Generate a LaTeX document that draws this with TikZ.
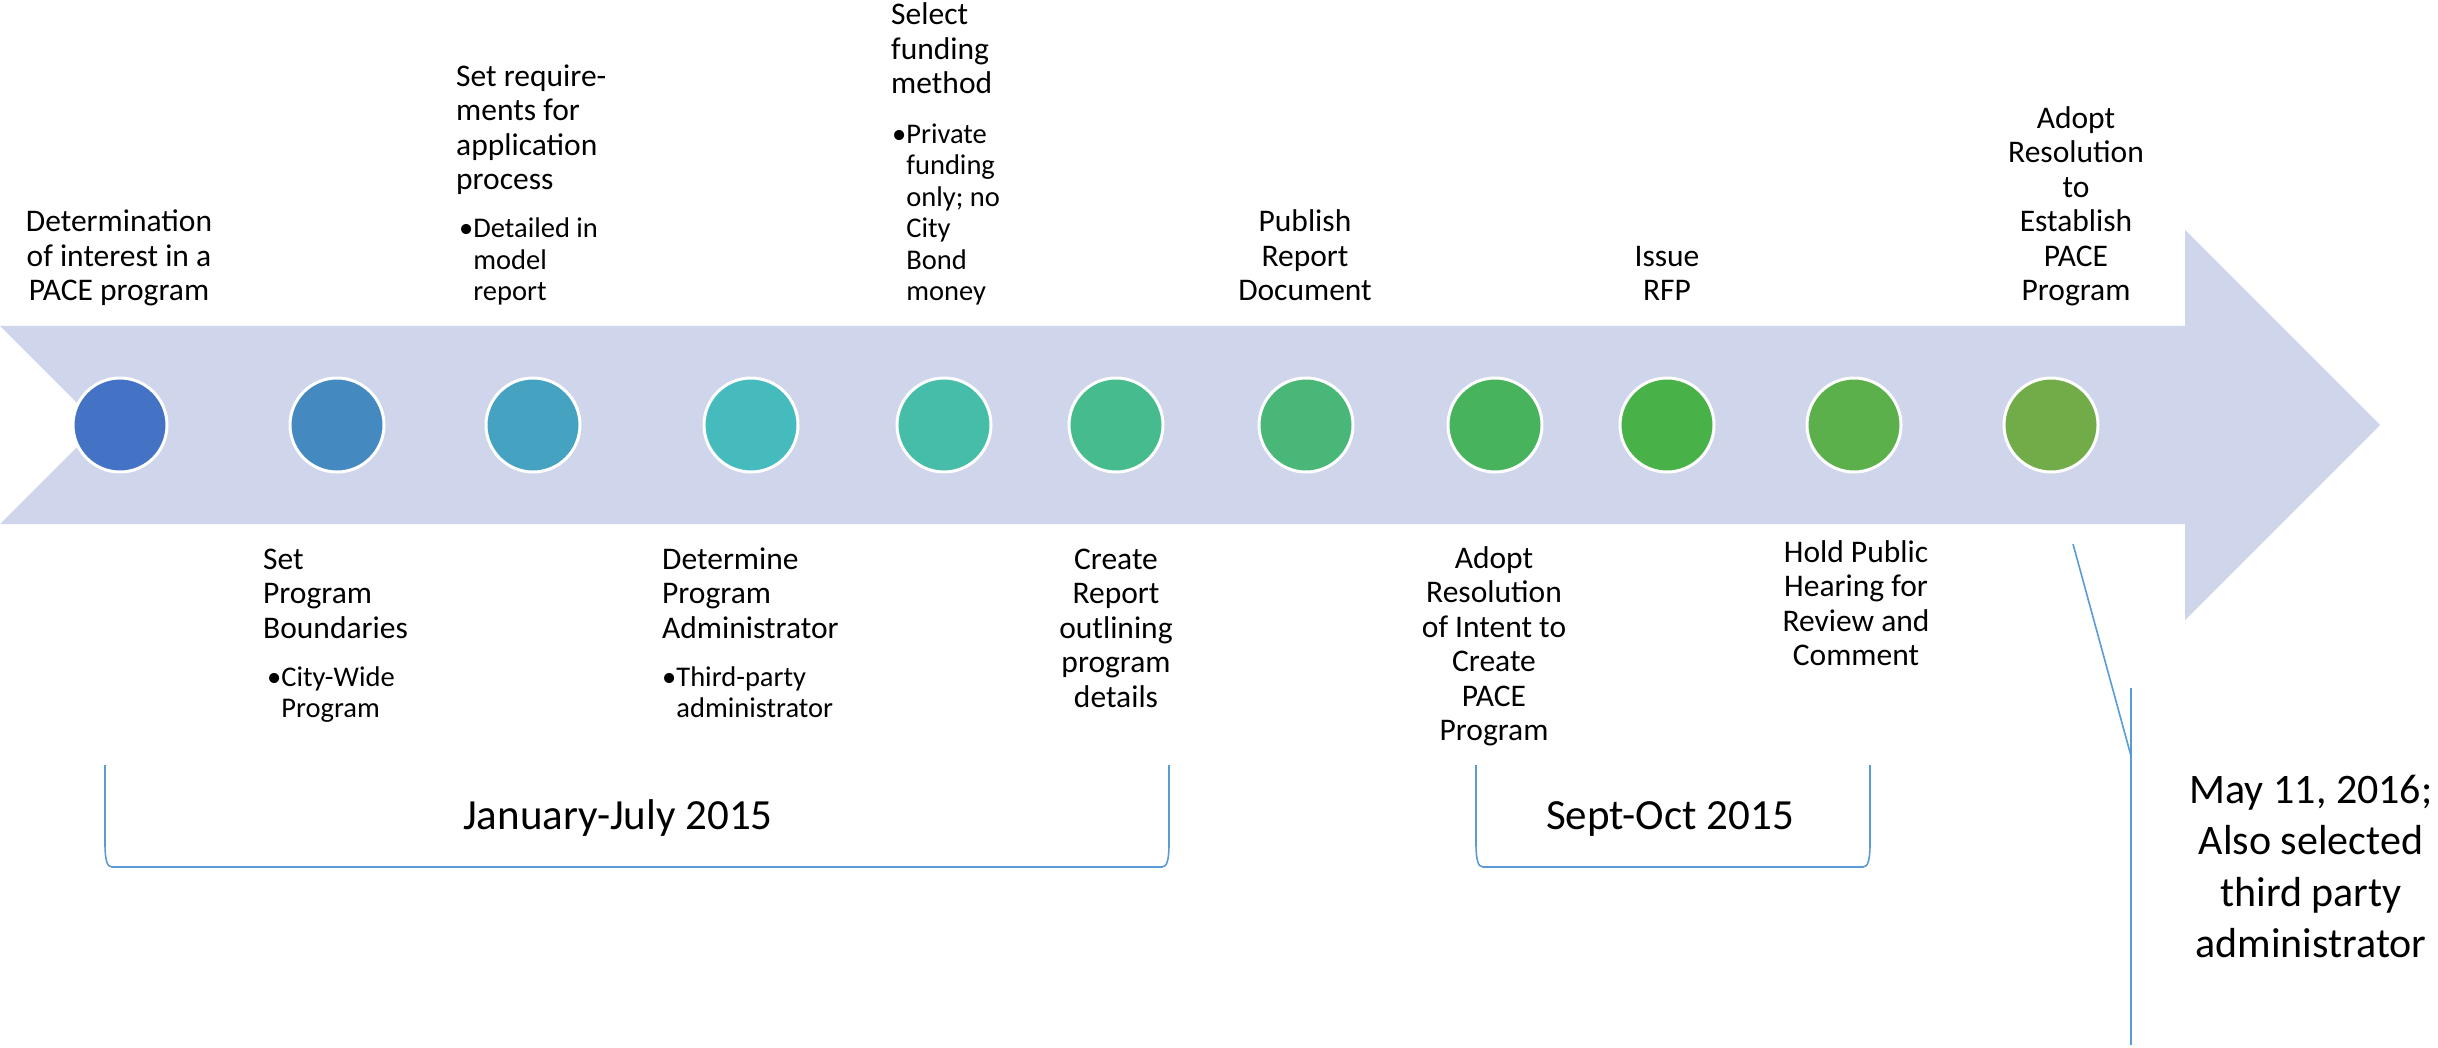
\documentclass[tikz,border=0pt]{standalone}
\usepackage{fontspec}
\setmainfont{Carlito}
\definecolor{band}{HTML}{CFD5EA}
\definecolor{lineblue}{HTML}{5B9BD5}
\definecolor{c1}{HTML}{4472C4}
\definecolor{c2}{HTML}{448AC0}
\definecolor{c3}{HTML}{45A3C1}
\definecolor{c4}{HTML}{45BBBE}
\definecolor{c5}{HTML}{46BDA8}
\definecolor{c6}{HTML}{45BB8E}
\definecolor{c7}{HTML}{48B777}
\definecolor{c8}{HTML}{48B35D}
\definecolor{c9}{HTML}{48B148}
\definecolor{c10}{HTML}{5BB04B}
\definecolor{c11}{HTML}{71AC48}
\newcommand\clines[2]{\begin{tabular}[#1]{@{}c@{}}#2\end{tabular}}
\newcommand\llines[2]{\begin{tabular}[#1]{@{}l@{}}#2\end{tabular}}
\newcommand\blines[2]{\begin{tabular}[#1]{@{}l@{}l@{}}•&#2\end{tabular}}
\begin{document}
\begin{tikzpicture}[x=1pt,y=-1pt,
  ttl/.style={inner sep=0pt, anchor=base, font=\fontsize{31.5}{34.5}\selectfont},
  bul/.style={inner sep=0pt, anchor=base west, font=\fontsize{28.5}{31.5}\selectfont},
  big/.style={inner sep=0pt, anchor=base, font=\fontsize{43}{51.5}\selectfont},
  dot/.style={circle, inner sep=0pt, minimum size=94pt, draw=white, line width=3pt},
  bracketline/.style={draw=lineblue, line width=1.6pt},
]
\fill[white] (0,0) rectangle (2438,1048);
\useasboundingbox (0,0) rectangle (2438,1048);
% band arrow
\fill[band] (0,326) -- (2185,326) -- (2185,230) -- (2380,425) -- (2185,620)
  -- (2185,524) -- (0,524) -- (99,425) -- cycle;
% milestones
\node[dot, fill=c1]  (n1)  at (120,425) {};
\node[dot, fill=c2]  (n2)  at (337,425) {};
\node[dot, fill=c3]  (n3)  at (533,425) {};
\node[dot, fill=c4]  (n4)  at (751,425) {};
\node[dot, fill=c5]  (n5)  at (944,425) {};
\node[dot, fill=c6]  (n6)  at (1116,425) {};
\node[dot, fill=c7]  (n7)  at (1306,425) {};
\node[dot, fill=c8]  (n8)  at (1495,425) {};
\node[dot, fill=c9]  (n9)  at (1667,425) {};
\node[dot, fill=c10] (n10) at (1854,425) {};
\node[dot, fill=c11] (n11) at (2051,425) {};
% labels above
\node[ttl] (t1) at (119,301) {\clines{b}{Determination\\of interest in a\\PACE program}};
\node[ttl, anchor=base west] (t3a) at (456,190) {\llines{b}{Set require-\\ments for\\application\\process}};
\node[bul] (t3b) at (459,301) {\blines{b}{Detailed in\\&model\\&report}};
\node[ttl, anchor=base west] (t5a) at (891,94) {\llines{b}{Select\\funding\\method}};
\node[bul] (t5b) at (892,301) {\blines{b}{Private\\&funding\\&only; no\\&City\\&Bond\\&money}};
\node[ttl] (t7) at (1305,301) {\clines{b}{Publish\\Report\\Document}};
\node[ttl] (t9) at (1667,301) {\clines{b}{Issue\\RFP}};
\node[ttl] (t11) at (2076,301) {\clines{b}{Adopt\\Resolution\\to\\Establish\\PACE\\Program}};
% labels below
\node[ttl, anchor=base west] (b2a) at (263,569) {\llines{t}{Set\\Program\\Boundaries}};
\node[bul] (b2b) at (267,686) {\blines{t}{City-Wide\\&Program}};
\node[ttl, anchor=base west] (b4a) at (662,569) {\llines{t}{Determine\\Program\\Administrator}};
\node[bul] (b4b) at (662,686) {\blines{t}{Third-party\\&administrator}};
\node[ttl] (b6) at (1116,569) {\clines{t}{Create\\Report\\outlining\\program\\details}};
\node[ttl] (b8) at (1494,568) {\clines{t}{Adopt\\Resolution\\of Intent to\\Create\\PACE\\Program}};
\node[ttl] (b10) at (1856,562) {\clines{t}{Hold Public\\Hearing for\\Review and\\Comment}};
% brackets
\draw[bracketline] (105,765) -- (105,843) .. controls (105,860) and (107,867) .. (112,867)
  -- (1162,867) .. controls (1167,867) and (1169,860) .. (1169,843) -- (1169,765);
\node[big] (jan) at (618,829) {January-July 2015};
\draw[bracketline] (1476,765) -- (1476,843) .. controls (1476,860) and (1478,867) .. (1483,867)
  -- (1863,867) .. controls (1868,867) and (1870,860) .. (1870,843) -- (1870,765);
\node[big] (sep) at (1670,829) {Sept-Oct 2015};
% callout
\coordinate (cl1) at (2073,544);
\coordinate (cl2) at (2131,756);
\coordinate (bar1) at (2131,688);
\coordinate (bar2) at (2131,1045);
\draw[bracketline] (cl1) -- (cl2);
\draw[bracketline] (bar1) -- (bar2);
\node[inner sep=0pt, anchor=base, font=\fontsize{42}{51.5}\selectfont] (may) at (2311,803)
  {\clines{t}{May 11, 2016;\\Also selected\\third party\\administrator}};
\end{tikzpicture}
\end{document}
